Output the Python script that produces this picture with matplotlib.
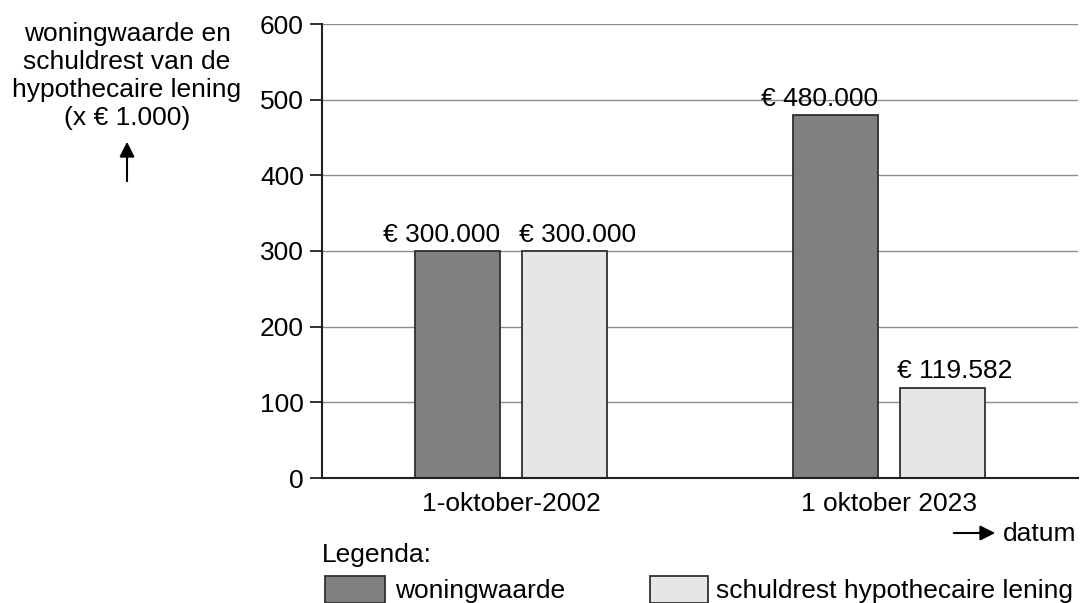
import matplotlib
matplotlib.use("Agg")
import matplotlib.pyplot as plt
from matplotlib.patches import Rectangle, FancyArrowPatch
import numpy as np

categories = ["1-oktober-2002", "1 oktober 2023"]
woningwaarde = [300, 480]
schuldrest = [300, 119.582]
labels_woning = ["€ 300.000", "€ 480.000"]
labels_schuld = ["€ 300.000", "€ 119.582"]
yticks = [0, 100, 200, 300, 400, 500, 600]

plt.rcParams['font.family'] = ['Liberation Sans', 'DejaVu Sans']
FS = 19
W, H = 1081, 603
fig = plt.figure(figsize=(W / 100, H / 100), dpi=100)

# axes in pixel coordinates: left 322, right 1078, top 24, bottom 478
ax = fig.add_axes([322 / W, 1 - 478 / H, (1078 - 322) / W, (478 - 24) / H])
ax.set_xlim(-0.5, 1.5)
ax.set_ylim(0, 600)

dark = "#808080"
light = "#e6e6e6"
edge = "#303030"
x = np.arange(len(categories))
off = 0.1413
bw = 0.2246

ax.set_axisbelow(True)
ax.yaxis.grid(True, color="#8c8c8c", linewidth=1.0)
b1 = ax.bar(x - off, woningwaarde, bw, color=dark, edgecolor=edge, linewidth=1.3, zorder=2)
b2 = ax.bar(x + off, schuldrest, bw, color=light, edgecolor=edge, linewidth=1.3, zorder=2)

for rect, lab in zip(b1, labels_woning):
    ax.annotate(lab, (rect.get_x() + rect.get_width(), rect.get_height()),
                xytext=(0, 3), textcoords="offset points", ha="right", va="bottom",
                fontsize=FS, zorder=3)
for rect, lab in zip(b2, labels_schuld):
    ax.annotate(lab, (rect.get_x(), rect.get_height()),
                xytext=(-2, 3), textcoords="offset points", ha="left", va="bottom",
                fontsize=FS, zorder=3)

ax.set_yticks(yticks)
ax.set_yticklabels([str(v) for v in yticks], fontsize=FS)
ax.set_xticks(x)
ax.set_xticklabels(categories, fontsize=FS)
ax.tick_params(axis="y", length=9, width=1.3, pad=4, color="#202020")
ax.tick_params(axis="x", length=0, pad=10)
for s in ["top", "right"]:
    ax.spines[s].set_visible(False)
for s in ["left", "bottom"]:
    ax.spines[s].set_linewidth(1.5)
    ax.spines[s].set_color("#202020")

# y-axis label
fig.text(127 / W, 1 - 76 / H, "woningwaarde en\nschuldrest van de\nhypothecaire lening\n(x € 1.000)",
         ha="center", va="center", fontsize=FS, linespacing=1.2)
fig.patches.append(FancyArrowPatch((127 / W, 1 - 184 / H), (127 / W, 1 - 139 / H),
                                   transform=fig.transFigure, arrowstyle="-|>,head_length=6,head_width=3",
                                   color="black", linewidth=1.5, mutation_scale=1.5))

# x-axis label
fig.patches.append(FancyArrowPatch((951 / W, 1 - 533 / H), (998 / W, 1 - 533 / H),
                                   transform=fig.transFigure, arrowstyle="-|>,head_length=6,head_width=3",
                                   color="black", linewidth=1.5, mutation_scale=1.5))
fig.text(1003 / W, 1 - 534 / H, "datum", ha="left", va="center", fontsize=FS)

# legend
fig.text(322 / W, 1 - 555 / H, "Legenda:", ha="left", va="center", fontsize=FS)
fig.patches.append(Rectangle((325 / W, 0), 60 / W, 27 / H, transform=fig.transFigure,
                             facecolor=dark, edgecolor=edge, linewidth=1.3))
fig.text(395 / W, 1 - 591 / H, "woningwaarde", ha="left", va="center", fontsize=FS)
fig.patches.append(Rectangle((650 / W, 0), 58 / W, 27 / H, transform=fig.transFigure,
                             facecolor=light, edgecolor=edge, linewidth=1.3))
fig.text(716 / W, 1 - 591 / H, "schuldrest hypothecaire lening", ha="left", va="center", fontsize=FS)

fig.savefig("out.png", dpi=100)
